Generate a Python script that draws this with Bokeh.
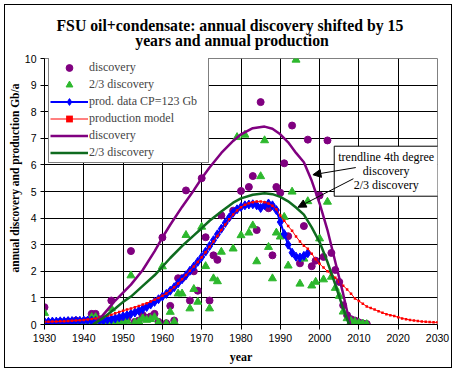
from bokeh.plotting import figure
from bokeh.models import Range1d, FixedTicker, Legend, LegendItem, Label, Arrow, NormalHead, Title
from bokeh.embed import file_html
from bokeh.resources import INLINE

# ---------------- data ----------------
disc_years = [1930, 1931, 1932, 1933, 1934, 1935, 1936, 1937, 1938, 1939, 1940, 1941, 1942, 1943,
              1944, 1945, 1946, 1947, 1948, 1949, 1950, 1951, 1952, 1953, 1954, 1955, 1956, 1957,
              1958, 1959, 1960, 1961, 1962, 1963, 1964, 1965, 1966, 1967, 1968, 1969, 1970, 1971,
              1972, 1973, 1974, 1975, 1978, 1980, 1982, 1983, 1984, 1985, 1987, 1988, 1989, 1990,
              1991, 1992, 1993, 1995, 1996, 1997, 1998, 1999, 2000, 2001, 2002, 2003, 2004, 2005,
              2006, 2007, 2008, 2009, 2010, 2011, 2012]
disc_vals = [0.65, 0.05, 0.08, 0.03, 0.10, 0.06, 0.12, 0.05, 0.15, 0.08, 0.10, 0.15, 0.40, 0.40,
             0.20, 0.05, 0.10, 0.90, 0.15, 0.10, 0.05, 0.20, 2.76, 0.10, 0.15, 0.35, 0.25, 0.30,
             0.40, 0.10, 3.27, 0.05, 0.70, 0.15, 1.74, 1.74, 5.04, 0.90, 2.00, 1.27, 5.50, 3.28,
             0.90, 2.60, 2.43, 4.10, 4.28, 5.02, 5.17, 5.58, 3.55, 8.36, 4.37, 2.60, 5.17, 4.95,
             6.06, 3.32, 7.48, 2.30, 3.70, 6.95, 2.19, 2.40, 4.85, 2.54, 6.92, 2.69, 2.05, 1.60,
             0.72, 0.35, 0.20, 0.15, 0.08, 0.04, 0.02]

disc23_years = [1930, 1931, 1932, 1933, 1934, 1935, 1936, 1937, 1938, 1939, 1940, 1941, 1942, 1943,
                1944, 1945, 1946, 1947, 1948, 1949, 1950, 1951, 1952, 1953, 1954, 1955, 1956, 1957,
                1958, 1959, 1960, 1961, 1962, 1963, 1964, 1965, 1966, 1967, 1968, 1969, 1970, 1971,
                1972, 1973, 1974, 1975, 1978, 1979, 1980, 1981, 1982, 1983, 1984, 1985, 1986, 1987,
                1988, 1989, 1990, 1991, 1992, 1993, 1994, 1995, 1996, 1997, 1998, 1999, 2000, 2001,
                2002, 2003, 2004, 2005, 2006, 2007, 2008, 2009, 2010, 2011, 2012]
disc23_vals = [0.43, 0.03, 0.05, 0.02, 0.07, 0.04, 0.08, 0.03, 0.10, 0.05, 0.07, 0.10, 0.27, 0.27,
               0.13, 0.03, 0.07, 0.60, 0.10, 0.07, 0.03, 0.13, 1.84, 0.07, 0.10, 0.23, 0.17, 0.20,
               0.27, 0.07, 2.18, 0.03, 0.47, 0.10, 1.16, 1.16, 3.36, 0.60, 1.33, 0.85, 3.67, 2.19,
               0.60, 1.73, 1.62, 2.73, 2.85, 7.04, 3.35, 7.13, 3.45, 3.72, 2.37, 5.57, 6.92, 2.91,
               1.73, 3.45, 3.30, 4.04, 2.21, 4.99, 9.95, 1.53, 2.47, 4.63, 1.46, 1.60, 3.23, 1.69,
               4.61, 1.79, 1.37, 1.07, 0.48, 0.23, 0.13, 0.10, 0.05, 0.03, 0.01]

prod_years = list(range(1930, 1998))
prod_vals = [0.10, 0.10, 0.11, 0.11, 0.12, 0.12, 0.13, 0.13, 0.14, 0.14, 0.15, 0.15, 0.15, 0.14,
             0.13, 0.15, 0.18, 0.20, 0.23, 0.27, 0.31, 0.35, 0.40, 0.45, 0.52, 0.58, 0.66, 0.75,
             0.85, 0.95, 1.05, 1.15, 1.27, 1.40, 1.55, 1.70, 1.85, 2.02, 2.18, 2.36, 2.54, 2.74,
             2.95, 3.17, 3.39, 3.60, 3.82, 4.02, 4.20, 4.33, 4.42, 4.48, 4.51, 4.52, 4.48, 4.38,
             4.48, 4.55, 4.48, 4.30, 3.85, 3.40, 3.00, 2.70, 2.55, 2.52, 2.58, 2.68]

model_years = list(range(1930, 2031))
model_vals = [0.10, 0.10, 0.11, 0.11, 0.12, 0.12, 0.13, 0.14, 0.15, 0.16, 0.17, 0.19, 0.21, 0.23,
              0.26, 0.29, 0.33, 0.37, 0.42, 0.47, 0.52, 0.56, 0.60, 0.65, 0.70, 0.75, 0.80, 0.86,
              0.93, 1.00, 1.08, 1.17, 1.28, 1.40, 1.54, 1.70, 1.86, 2.02, 2.18, 2.35, 2.53, 2.72,
              2.92, 3.12, 3.33, 3.55, 3.76, 3.96, 4.14, 4.29, 4.41, 4.50, 4.56, 4.60, 4.62, 4.62,
              4.60, 4.55, 4.46, 4.33, 4.10, 3.90, 3.70, 3.52, 3.31, 3.12, 2.96, 2.85, 2.66, 2.45,
              2.28, 2.14, 2.00, 1.88, 1.76, 1.61, 1.46, 1.32, 1.16, 0.98, 0.88, 0.78, 0.68, 0.62,
              0.56, 0.50, 0.44, 0.39, 0.35, 0.32, 0.27, 0.23, 0.20, 0.17, 0.15, 0.13, 0.11, 0.10,
              0.09, 0.08, 0.08]

trend_years = [1942.5, 1944, 1946, 1948, 1950, 1952, 1955, 1958, 1960, 1962, 1965, 1968, 1970,
               1972, 1975, 1978, 1980, 1983, 1986, 1988, 1990, 1992, 1994, 1996, 1998, 2000,
               2002, 2004, 2006, 2007, 2007.8]
trend_vals = [0.0, 0.20, 0.55, 0.90, 1.20, 1.50, 2.05, 2.75, 3.27, 3.75, 4.42, 5.05, 5.50,
              5.90, 6.45, 6.90, 7.15, 7.38, 7.44, 7.36, 7.15, 6.85, 6.45, 6.10, 5.40, 4.55,
              3.55, 2.35, 1.15, 0.50, 0.0]

trend23_years = [1942.3, 1945, 1948, 1950, 1952, 1955, 1958, 1960, 1962, 1965, 1968, 1970, 1972,
                 1975, 1978, 1980, 1983, 1986, 1988, 1990, 1992, 1994, 1996, 1998, 2000, 2002,
                 2004, 2006, 2007.5]
trend23_vals = [0.0, 0.25, 0.60, 0.85, 1.05, 1.45, 1.85, 2.17, 2.50, 2.95, 3.35, 3.62, 3.90,
                4.25, 4.58, 4.74, 4.88, 4.93, 4.90, 4.80, 4.63, 4.40, 4.13, 3.65, 3.10, 2.35,
                1.50, 0.60, 0.0]

x_ticks = [1930, 1940, 1950, 1960, 1970, 1980, 1990, 2000, 2010, 2020, 2030]
y_ticks = [0, 1, 2, 3, 4, 5, 6, 7, 8, 9, 10]

title_line1 = "FSU oil+condensate: annual discovery shifted by 15"
title_line2 = "years and annual production"
x_title = "year"
y_title = "annual discovery and production Gb/a"
note_text = "trendline 4th degree\ndiscovery\n2/3 discovery"

PURPLE = "#800080"
GREEN_PT = "#2db82d"
GREEN_LN = "#0f6b1f"
BLUE = "#0000ff"
RED = "#ff0000"
SERIF = "Liberation Serif"
SANS = "Liberation Sans"

NBSP = "\u00a0"
title_text = title_line1 + "\n" + NBSP * 20 + title_line2

W, H = 446, 362
p = figure(width=W, height=H, title=title_text,
           x_range=Range1d(x_ticks[0], x_ticks[-1]), y_range=Range1d(y_ticks[0], y_ticks[-1]),
           output_backend="svg", toolbar_location=None,
           min_border_left=37, min_border_right=14, min_border_top=53, min_border_bottom=43,
           background_fill_color="white", border_fill_color="white",
           styles={"margin": "5px 0 0 5px", "outline": "1px solid black"})

p.title.align = "left"
p.title.offset = 12
p.title.standoff = 18
p.title.text_font = SERIF
p.title.text_font_size = "15.75px"
p.title.text_font_style = "bold"
p.title.text_color = "black"
p.title.text_line_height = 0.94

p.outline_line_color = "#808080"
p.outline_line_width = 1

# grid
p.xgrid.ticker = FixedTicker(ticks=x_ticks[1:-1])
p.ygrid.ticker = FixedTicker(ticks=y_ticks[1:-1])
for g in (p.xgrid, p.ygrid):
    g.grid_line_color = "black"
    g.grid_line_width = 1

# axes
p.xaxis.ticker = FixedTicker(ticks=x_ticks)
p.yaxis.ticker = FixedTicker(ticks=y_ticks)
for ax in (p.xaxis, p.yaxis):
    ax.axis_line_color = "black"
    ax.major_tick_line_color = "black"
    ax.minor_tick_line_color = None
    ax.major_tick_in = 0
    ax.major_label_text_font = SANS
    ax.major_label_text_font_size = "10.5px"
    ax.major_label_text_color = "black"
    ax.axis_label_text_font = SERIF
    ax.axis_label_text_font_size = "12px"
    ax.axis_label_text_font_style = "bold"
    ax.axis_label_text_color = "black"
p.xaxis.major_tick_out = 5
p.xaxis.major_label_standoff = 4
p.yaxis.major_tick_out = 4
p.yaxis.major_label_standoff = 4
p.xaxis.axis_label = x_title
p.xaxis.axis_label_standoff = 5

# y title on the left, shifted upward like the reference
p.add_layout(Title(text=y_title, align="left", offset=52, standoff=2, text_font=SERIF,
                   text_font_size="11.5px", text_font_style="bold", text_color="black"), "left")

# series
r_disc = p.scatter(disc_years, disc_vals, marker="circle", size=7, fill_color=PURPLE, line_color=PURPLE)
r_d23 = p.scatter(disc23_years, disc23_vals, marker="triangle", size=8, fill_color=GREEN_PT, line_color=GREEN_PT)
r_prod_l = p.line(prod_years, prod_vals, line_color=BLUE, line_width=2)
r_prod_m = p.scatter(prod_years, prod_vals, marker="diamond", size=9, fill_color=BLUE, line_color=BLUE)
r_mod_l = p.line(model_years, model_vals, line_color=RED, line_width=1)
r_mod_m = p.scatter(model_years, model_vals, marker="square", size=2.5, fill_color=RED, line_color=None)
r_tr = p.line(trend_years, trend_vals, line_color=PURPLE, line_width=2.5)
r_tr23 = p.line(trend23_years, trend23_vals, line_color=GREEN_LN, line_width=2.5)

legend = Legend(items=[
    LegendItem(label="discovery", renderers=[r_disc]),
    LegendItem(label="2/3 discovery", renderers=[r_d23]),
    LegendItem(label="prod. data CP=123 Gb", renderers=[r_prod_l, r_prod_m]),
    LegendItem(label="production model", renderers=[r_mod_l, r_mod_m]),
    LegendItem(label="discovery", renderers=[r_tr]),
    LegendItem(label="2/3 discovery", renderers=[r_tr23]),
], location=(4, 161), margin=0, padding=1, spacing=0, glyph_width=38, glyph_height=17,
    label_height=17, label_width=118, label_standoff=1, label_text_font=SERIF,
    label_text_font_size="12px", border_line_color="black", border_line_width=1,
    background_fill_color="white", background_fill_alpha=1.0)
p.add_layout(legend)

# trendline note box and arrows
p.add_layout(Label(x=2016.95, y=5.763, text=note_text,
                   text_font=SERIF, text_font_size="12px", text_color="black",
                   text_align="center", text_baseline="middle", text_line_height=1.0,
                   background_fill_color="white", border_line_color="black", border_line_width=1,
                   padding=4))
p.add_layout(Arrow(end=NormalHead(size=8, fill_color="black", line_color="black"),
                   x_start=2009.2, y_start=5.90, x_end=1998.3, y_end=5.63,
                   line_color="black", line_width=1))
p.add_layout(Arrow(end=NormalHead(size=8, fill_color="black", line_color="black"),
                   x_start=2008.6, y_start=5.48, x_end=1994.5, y_end=4.41,
                   line_color="black", line_width=1))

open("out.html", "w").write(file_html(p, INLINE))
